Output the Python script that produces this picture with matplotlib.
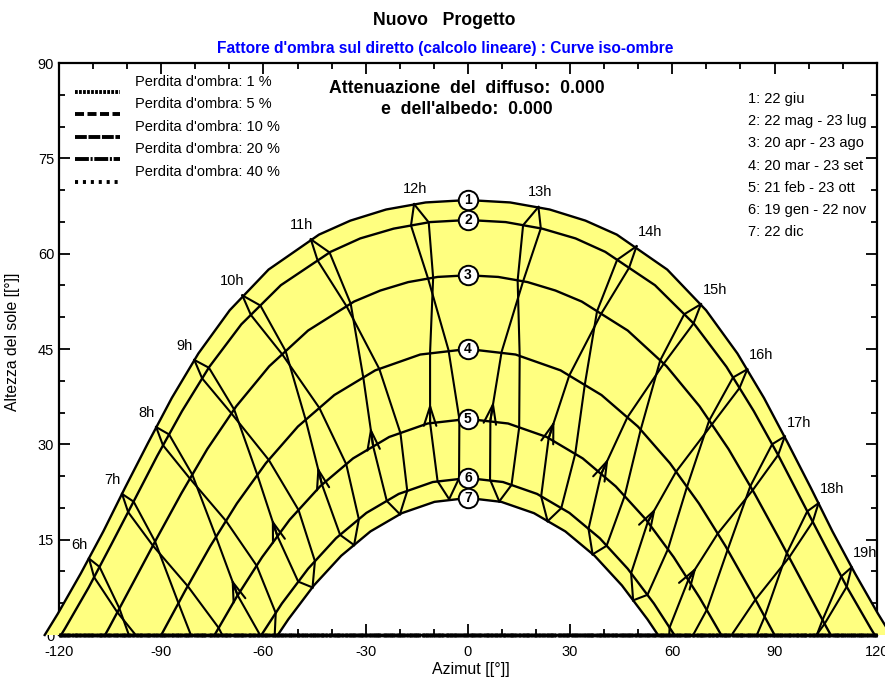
import numpy as np
import matplotlib
matplotlib.use('Agg')
import matplotlib.pyplot as plt
from matplotlib.ticker import MultipleLocator

plt.rcParams['font.family'] = ['Liberation Sans', 'DejaVu Sans']
plt.rcParams['lines.scale_dashes'] = False
plt.rcParams['axes.unicode_minus'] = False

# sun paths, afternoon half (azimut >= 0); the morning half is the mirror image
az_1 = [0, 12.4, 24.0, 34.5, 43.7, 58.5, 69.9, 79.1, 86.9, 93.9, 100.6, 107.0, 113.6, 120.3, 124.2]
alt_1 = [68.44, 68.06, 66.95, 65.2, 63.0, 57.5, 51.1, 44.3, 37.3, 30.2, 23.2, 16.3, 9.7, 3.4, 0]
az_2 = [0, 11.1, 21.8, 31.6, 40.3, 54.9, 66.5, 75.9, 83.9, 91.2, 98.0, 104.7, 111.3, 118.2, 119.4]
alt_2 = [65.3, 64.97, 63.94, 62.4, 60.29, 55.04, 48.88, 42.19, 35.23, 28.17, 21.12, 14.2, 7.48, 1.06, 0]
az_3 = [0, 8.9, 17.5, 25.7, 33.4, 46.9, 58.3, 68.0, 76.5, 84.1, 91.3, 98.3, 105.2, 106.5]
alt_3 = [56.6, 56.34, 55.53, 54.2, 52.47, 47.91, 42.29, 35.98, 29.25, 22.28, 15.22, 8.18, 1.25, 0]
az_4 = [0, 14.0, 27.2, 39.2, 49.9, 59.3, 67.8, 75.6, 82.9, 90.0]
alt_4 = [45.0, 44.13, 41.64, 37.76, 32.8, 27.03, 20.7, 13.99, 7.05, 0]
az_5 = [0, 11.8, 23.1, 33.7, 43.4, 52.3, 60.4, 68.0, 74.35]
alt_5 = [34.0, 33.28, 31.16, 27.79, 23.38, 18.14, 12.25, 5.88, 0]
az_6 = [0, 10.3, 20.3, 29.8, 38.7, 46.9, 54.6, 60.6]
alt_6 = [24.7, 24.07, 22.2, 19.21, 15.23, 10.43, 4.95, 0]
az_7 = [0, 9.8, 19.4, 28.6, 37.2, 45.2, 52.7, 55.8]
alt_7 = [21.56, 20.95, 19.17, 16.3, 12.46, 7.8, 2.47, 0]

date_labels = ['1: 22 giu', '2: 22 mag - 23 lug', '3: 20 apr - 23 ago', '4: 20 mar - 23 set',
               '5: 21 feb - 23 ott', '6: 19 gen - 22 nov', '7: 22 dic']

# hour lines (legal time), branch a = jan-jun dates, branch b = jul-dec dates
h06_a = [(-111.2, 12.03), (-108.1, 10.71), (-102.3, 4.2), (-99.5, 0)]
h06_b = [(-111.2, 12.03), (-109.7, 9.09), (-102.9, 3.58), (-97.5, 0)]
h07_a = [(-101.5, 22.2), (-98.1, 20.98), (-91.8, 14.69), (-84.95, 5.01), (-81.3, 0)]
h07_b = [(-101.5, 22.2), (-99.7, 19.32), (-92.45, 14.06), (-82.2, 7.67), (-73.15, 1.12), (-72.1, 0)]
h08_a = [(-91.5, 32.72), (-87.7, 31.56), (-80.9, 25.25), (-73.9, 15.4), (-67.6, 6.26), (-61.0, 0)]
h08_b = [(-91.5, 32.72), (-89.5, 29.86), (-81.6, 24.62), (-71.0, 17.95), (-62.0, 10.91), (-56.4, 3.46), (-56.7, 0)]
h09_a = [(-80.3, 43.28), (-76.0, 42.05), (-68.6, 35.48), (-61.8, 25.19), (-55.9, 15.55), (-49.8, 8.4), (-45.6, 7.48)]
h09_b = [(-80.3, 43.28), (-78.0, 40.38), (-69.4, 34.87), (-58.45, 27.55), (-49.7, 19.66), (-44.9, 11.63), (-45.6, 7.48)]
h10_a = [(-66.2, 53.44), (-60.9, 51.84), (-53.5, 44.68), (-47.6, 33.84), (-42.8, 23.64), (-37.5, 15.75), (-33.4, 14.15)]
h10_b = [(-66.2, 53.44), (-63.7, 50.36), (-54.5, 44.17), (-43.6, 35.73), (-35.7, 26.86), (-32.0, 18.21), (-33.4, 14.15)]
h11_a = [(-46.1, 62.26), (-40.6, 60.19), (-34.4, 52.13), (-30.7, 40.51), (-27.8, 29.68), (-23.8, 21.09), (-19.95, 19.0)]
h11_b = [(-46.1, 62.26), (-44.1, 58.92), (-35.6, 51.72), (-26.0, 41.86), (-19.8, 31.77), (-17.8, 22.67), (-19.95, 19.0)]
h12_a = [(-15.8, 67.8), (-11.5, 64.93), (-10.2, 56.2), (-11.1, 44.5), (-11.1, 33.4), (-8.9, 24.2), (-5.5, 21.37)]
h12_b = [(-15.8, 67.8), (-16.7, 64.43), (-11.7, 56.1), (-5.7, 44.85), (-2.5, 33.97), (-2.6, 24.66), (-5.5, 21.37)]
h13_a = [(20.7, 67.35), (21.4, 63.98), (16.2, 55.65), (9.9, 44.56), (6.6, 33.77), (6.5, 24.45), (9.2, 21.02)]
h13_b = [(20.7, 67.35), (16.2, 64.48), (14.6, 55.8), (15.2, 43.91), (15.05, 32.67), (12.8, 23.6), (9.2, 21.02)]
h14_a = [(49.5, 61.17), (47.3, 57.77), (39.1, 50.53), (29.75, 40.83), (23.7, 30.96), (21.5, 21.81), (23.4, 17.91)]
h14_b = [(49.5, 61.17), (43.8, 59.03), (37.9, 50.94), (34.3, 39.35), (31.5, 28.5), (27.4, 19.96), (23.4, 17.91)]
h15_a = [(68.4, 52.06), (66.2, 49.0), (57.5, 42.71), (46.8, 34.24), (39.1, 25.32), (35.4, 16.7), (36.6, 12.69)]
h15_b = [(68.4, 52.06), (63.5, 50.48), (56.45, 43.22), (50.7, 32.28), (46.0, 21.86), (40.7, 14.03), (36.6, 12.69)]
h16_a = [(82.0, 41.81), (79.7, 38.85), (71.6, 33.12), (61.1, 25.7), (52.8, 17.79), (47.9, 9.72), (48.5, 5.45)]
h16_b = [(82.0, 41.81), (77.8, 40.52), (70.8, 33.73), (64.3, 23.3), (58.7, 13.49), (52.7, 6.32), (48.5, 5.45)]
h17_a = [(93.0, 31.24), (91.05, 28.33), (83.6, 22.8), (73.3, 15.94), (64.7, 8.68), (59.2, 1.19), (59.1, 0)]
h17_b = [(93.0, 31.24), (89.3, 30.02), (82.9, 23.43), (76.2, 13.36), (70.1, 3.94), (66.1, 0)]
h18_a = [(102.9, 20.74), (101.2, 17.8), (94.3, 12.23), (84.4, 5.57), (77.4, 0)]
h18_b = [(102.9, 20.74), (99.6, 19.46), (93.6, 12.86), (87.1, 2.89), (84.8, 0)]
h19_a = [(112.6, 10.65), (111.2, 7.61), (104.7, 1.77), (102.3, 0)]
h19_b = [(112.6, 10.65), (109.6, 9.23), (104.1, 2.39), (102.4, 0)]

hours = [6, 7, 8, 9, 10, 11, 12, 13, 14, 15, 16, 17, 18, 19]
branches_a = [h06_a, h07_a, h08_a, h09_a, h10_a, h11_a, h12_a, h13_a, h14_a, h15_a, h16_a, h17_a, h18_a, h19_a]
branches_b = [h06_b, h07_b, h08_b, h09_b, h10_b, h11_b, h12_b, h13_b, h14_b, h15_b, h16_b, h17_b, h18_b, h19_b]

# iso-shading curves: no obstacle, all lie on the horizon
iso_levels = [1, 5, 10, 20, 40]
iso_az = [-120, 120]
iso_alt = [0, 0]
iso_styles = [(0, (2.0, 0.9)), (0, (6.5, 2.5)), (0, (8.5, 1.2)), (0, (10, 1.2, 1.5, 1.2)), (0, (2.2, 3.5))]


def mirror(half_az, half_alt):
    az = np.concatenate([-np.array(half_az[::-1]), np.array(half_az[1:])])
    alt = np.concatenate([np.array(half_alt[::-1]), np.array(half_alt[1:])])
    return az, alt


curves = [mirror(a, b) for a, b in [(az_1, alt_1), (az_2, alt_2), (az_3, alt_3), (az_4, alt_4),
                                     (az_5, alt_5), (az_6, alt_6), (az_7, alt_7)]]

fig = plt.figure(figsize=(8.85, 6.79), dpi=100)
ax = fig.add_axes([0.0667, 0.0648, 0.924, 0.8424])
ax.set_xlim(-120, 120)
ax.set_ylim(0, 90)

# yellow band between 22 giu and 22 dic
c1x, c1y = curves[0]
c7x, c7y = curves[6]
ax.fill(np.concatenate([c1x, c7x[::-1]]), np.concatenate([c1y, c7y[::-1]]),
        facecolor='#ffff80', edgecolor='none', zorder=3, clip_on=False)

for cx, cy in curves:
    ax.plot(cx, cy, color='black', lw=1.7, zorder=4, clip_on=False)

for h, ba, bb in zip(hours, branches_a, branches_b):
    for br in (ba, bb):
        p = np.array(br)
        ax.plot(p[:, 0], p[:, 1], color='black', lw=1.5, zorder=4, clip_on=False)
    top = ba[0]
    if h < 12:
        off = (-7, 10)
    elif h < 14:
        off = (1, 11)
    else:
        off = (10, 10)
    ax.annotate('%ih' % h, xy=top, xytext=off, textcoords='offset points',
                ha='center', va='center', fontsize=10.5, zorder=7)
    # direction arrow on the spring branch, between feb and mar
    if len(ba) == 7 or h in (8, 17):
        p5 = np.array(ba[4])
        p4 = np.array(ba[3])
        tip = p5 + 0.28 * (p4 - p5)
        ax.annotate('', xy=tip, xytext=p5,
                    arrowprops=dict(arrowstyle='->,head_length=1.4,head_width=0.45',
                                    lw=1.5, color='black', shrinkA=0, shrinkB=0),
                    zorder=5)

# date markers
for i, (cx, cy) in enumerate(curves):
    alt0 = cy[len(cy) // 2]
    ax.plot(0, alt0, 'o', ms=14, mfc='white', mec='black', mew=1.4, zorder=6)
    ax.text(0, alt0, str(i + 1), ha='center', va='center', fontsize=10,
            fontweight='bold', zorder=7)

# iso-shading lines on the horizon
for lvl, ls in zip(iso_levels, iso_styles):
    ax.plot(iso_az, iso_alt, color='black', lw=2.5, linestyle=ls, zorder=4.5, clip_on=False)

# legend, drawn by hand
for k, (lvl, ls) in enumerate(zip(iso_levels, iso_styles)):
    y = 0.967 - k * 0.0393
    ax.plot([0.0196, 0.0746], [y - 0.017, y - 0.017], transform=ax.transAxes,
            color='black', lw=2.8, linestyle=ls, zorder=7)
    ax.text(0.093, y, "Perdita d'ombra: %i %%" % lvl, transform=ax.transAxes,
            ha='left', va='center', fontsize=10.5)

for k, lab in enumerate(date_labels):
    ax.text(0.842, 0.9365 - k * 0.0386, lab, transform=ax.transAxes,
            ha='left', va='center', fontsize=10.5)

ax.text(0.4988, 0.956, "Attenuazione  del  diffuso:  0.000", transform=ax.transAxes,
        ha='center', va='center', fontsize=12.7, fontweight='bold')
ax.text(0.4988, 0.918, "e  dell'albedo:  0.000", transform=ax.transAxes,
        ha='center', va='center', fontsize=12.7, fontweight='bold')

ax.set_xticks(range(-120, 121, 30))
ax.set_yticks(range(0, 91, 15))
ax.xaxis.set_minor_locator(MultipleLocator(10))
ax.yaxis.set_minor_locator(MultipleLocator(5))
ax.tick_params(which='both', direction='in', top=True, right=True, width=1.3, labelsize=10.5)
ax.tick_params(which='major', length=8)
ax.tick_params(which='minor', length=4.5)
ax.tick_params(axis='x', which='major', pad=7)
for s in ax.spines.values():
    s.set_linewidth(1.6)

fig.text(0.532, 0.0133, 'Azimut [[°]]', ha='center', va='center', fontsize=11.5)
fig.text(0.0136, 0.497, 'Altezza del sole [[°]]', ha='center', va='center',
         rotation=90, fontsize=11.3)
fig.text(0.502, 0.9705, 'Nuovo   Progetto', ha='center', va='center',
         fontsize=12.7, fontweight='bold')
fig.text(0.503, 0.929, "Fattore d'ombra sul diretto (calcolo lineare) : Curve iso-ombre",
         ha='center', va='center', fontsize=11.2, fontweight='bold', color='#0000ff')

fig.savefig('out.png', dpi=100)
